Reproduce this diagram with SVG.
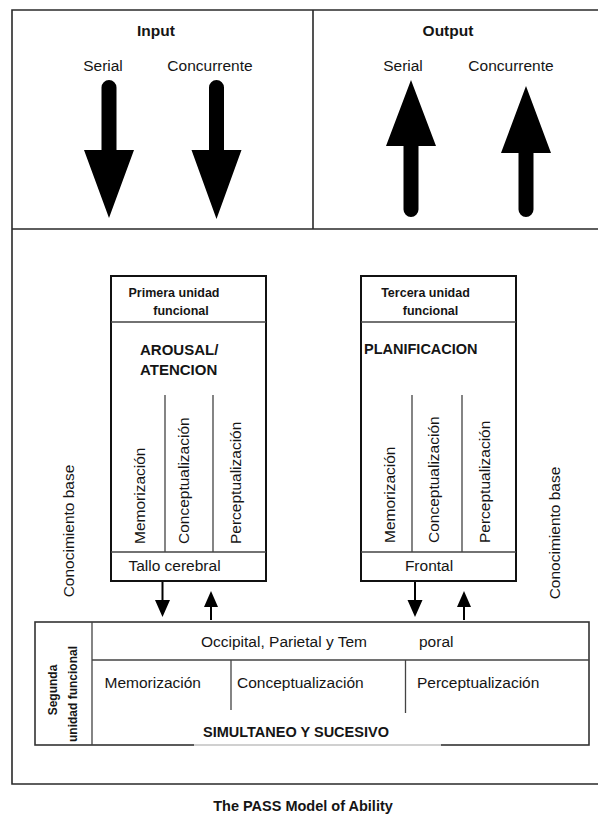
<svg xmlns="http://www.w3.org/2000/svg" width="598" height="816" viewBox="0 0 598 816">
<style>
text{font-family:"Liberation Sans",Arial,sans-serif;fill:#151515}
.t{font-size:15.5px}
.b{font-weight:bold}
.h{font-size:12.5px;font-weight:bold}
.frame{fill:none;stroke:#2a2a2a;stroke-width:1.6}
.box{fill:#fff;stroke:#111;stroke-width:2}
.in{stroke:#444;stroke-width:1.3;fill:none}
.big{fill:#000}
.sm{fill:#000}
</style>
<rect width="598" height="816" fill="#fff"/>
<g id="frame">
<path class="frame" d="M598,10 H12 V784 H598 M12,229 H598 M313,10 V229"/>
</g>
<g id="input">
<text class="t b" x="156" y="36" text-anchor="middle">Input</text>
<text class="t" x="103" y="71" text-anchor="middle">Serial</text>
<text class="t" x="210" y="71" text-anchor="middle">Concurrente</text>
</g>
<g id="output">
<text class="t b" x="448" y="36" text-anchor="middle">Output</text>
<text class="t" x="403" y="71" text-anchor="middle">Serial</text>
<text class="t" x="511" y="71" text-anchor="middle">Concurrente</text>
</g>
<g id="connectors">
<path class="big" d="M101.5,150 V87.5 A7.5,7.5 0 0 1 116.5,87.5 V150 H134 L109,218 L84,150 Z"/>
<path class="big" d="M209,150 V87.5 A7.5,7.5 0 0 1 224,87.5 V150 H241.5 L216.5,219 L191.5,150 Z"/>
<path class="big" d="M403.5,146 V209.5 A7.5,7.5 0 0 0 418.5,209.5 V146 H436 L411,80 L386,146 Z"/>
<path class="big" d="M518.5,153 V209.5 A7.5,7.5 0 0 0 533.5,209.5 V153 H551 L526,86 L501,153 Z"/>
<path class="sm" d="M161.5,581 V600 H155 L162.5,617 L170,600 H163.5 V581 Z"/>
<path class="sm" d="M210,620 V607 H204 L211,591 L218,607 H212 V620 Z"/>
<path class="sm" d="M414,581 V600 H407.5 L415,617 L422.5,600 H416 V581 Z"/>
<path class="sm" d="M463,620 V607 H457 L464,591 L471,607 H465 V620 Z"/>
</g>
<g id="unit1">
<rect class="box" x="111" y="276" width="155" height="305"/>
<path class="in" d="M111,322 H266 M111,552 H266 M165,395 V552 M213,395 V552"/>
<text class="h" x="174" y="297" text-anchor="middle">Primera unidad</text>
<text class="h" x="181" y="315" text-anchor="middle">funcional</text>
<text class="b" x="140" y="355" font-size="15">AROUSAL/</text>
<text class="b" x="140" y="375" font-size="15">ATENCION</text>
<text class="t" transform="translate(145,544) rotate(-90)">Memorización</text>
<text class="t" transform="translate(189,544) rotate(-90)">Conceptualización</text>
<text class="t" transform="translate(241,544) rotate(-90)">Perceptualización</text>
<text class="t" x="174.5" y="571" text-anchor="middle">Tallo cerebral</text>
</g>
<g id="unit3">
<rect class="box" x="361" y="276" width="155" height="305"/>
<path class="in" d="M361,322 H516 M361,552 H516 M412,395 V552 M462,395 V552"/>
<text class="h" x="425.5" y="297" text-anchor="middle">Tercera unidad</text>
<text class="h" x="430.5" y="315" text-anchor="middle">funcional</text>
<text class="b" x="364" y="354" font-size="14.5">PLANIFICACION</text>
<text class="t" transform="translate(395,543) rotate(-90)">Memorización</text>
<text class="t" transform="translate(439,543) rotate(-90)">Conceptualización</text>
<text class="t" transform="translate(490,543) rotate(-90)">Perceptualización</text>
<text class="t" x="429" y="571" text-anchor="middle">Frontal</text>
</g>
<g id="base-left">
<text class="t" transform="translate(74,531) rotate(-90)" text-anchor="middle">Conocimiento base</text>
</g>
<g id="base-right">
<text class="t" transform="translate(560,533) rotate(-90)" text-anchor="middle">Conocimiento base</text>
</g>
<g id="unit2">
<rect x="35" y="622" width="554" height="123" fill="#fff" stroke="#333" stroke-width="1.6"/>
<path class="in" d="M92,622 V745 M92,660 H589 M231,660 V710 M405.5,660 V713"/>
<line x1="194" y1="745" x2="441" y2="745" stroke="#d0d0d0" stroke-width="2"/>
<text class="b" font-size="12" transform="translate(57,690) rotate(-90)" text-anchor="middle">Segunda</text>
<text class="b" font-size="12" transform="translate(77,694) rotate(-90)" text-anchor="middle">unidad funcional</text>
<text class="t" x="201" y="647" font-size="15">Occipital, Parietal y Tem</text>
<text class="t" x="419" y="647" font-size="15">poral</text>
<text class="t" x="104.5" y="688" font-size="15">Memorización</text>
<text class="t" x="237" y="688" font-size="15">Conceptualización</text>
<text class="t" x="417" y="688" font-size="15">Perceptualización</text>
<text class="b" x="296" y="737" font-size="14.5" text-anchor="middle">SIMULTANEO Y SUCESIVO</text>
</g>
<g id="caption">
<text class="b" x="303" y="811" font-size="14.5" text-anchor="middle">The PASS Model of Ability</text>
</g>
</svg>
